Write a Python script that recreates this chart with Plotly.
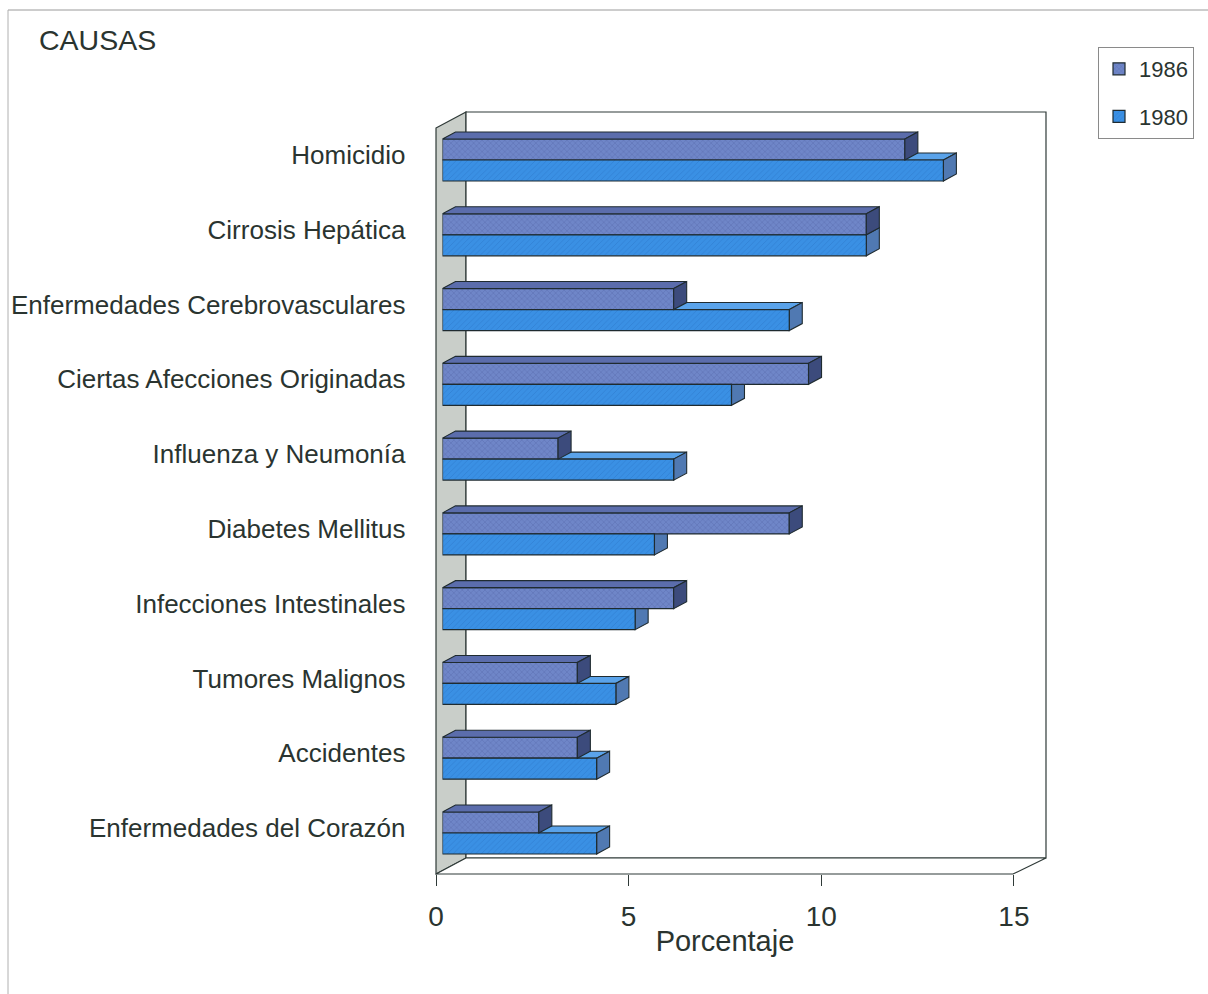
import plotly.graph_objects as go

# ---- data ---------------------------------------------------------------
causas = [
    "Enfermedades del Corazón",
    "Accidentes",
    "Tumores Malignos",
    "Infecciones Intestinales",
    "Diabetes Mellitus",
    "Influenza y Neumonía",
    "Ciertas Afecciones Originadas",
    "Enfermedades Cerebrovasculares",
    "Cirrosis Hepática",
    "Homicidio",
]
pct_1986 = [2.5, 3.5, 3.5, 6.0, 9.0, 3.0, 9.5, 6.0, 11.0, 12.0]
pct_1980 = [4.0, 4.0, 4.5, 5.0, 5.5, 6.0, 7.5, 9.0, 11.0, 13.0]
ticks_pct = [0, 5, 10, 15]

# ---- page geometry (pixels) --------------------------------------------
W, H = 1208, 994
def px(x):
    return x / W
def py(y):
    return 1 - y / H

X0 = 442.5          # bar origin on the front plane
PXU = 38.53         # pixels per percentage point
Y_TOP, Y_BOT = 112, 874
C_TOP, C_BOT = 160, 833  # centres of first / last category row
PYU = (C_BOT - C_TOP) / (len(causas) - 1)

DEPTH_X, DEPTH_Y = 13, 7     # bar depth (px)
dx = DEPTH_X / PXU
dy = DEPTH_Y / PYU
bw = 21 / PYU                # bar thickness in category units

pos = list(range(len(causas)))

TXT = "#2a3430"
EDGE = "#1f2b30"
FONT = "Liberation Sans, Arial, sans-serif"

fig = go.Figure()
fig.add_trace(go.Bar(
    name="1986", y=pos, x=pct_1986, orientation="h",
    width=bw, offset=0, legendgroup="a",
    marker=dict(color="#6f86c8", line=dict(color=EDGE, width=1.2),
                pattern=dict(shape="x", fgcolor="#4b5c9c", size=4, solidity=0.25)),
    hoverinfo="x+name",
))
fig.add_trace(go.Bar(
    name="1980", y=pos, x=pct_1980, orientation="h",
    width=bw, offset=-bw, legendgroup="b",
    marker=dict(color="#3a90e4", line=dict(color=EDGE, width=1.2),
                pattern=dict(shape="/", fgcolor="#2b70c4", size=4, solidity=0.2)),
    hoverinfo="x+name",
))
# the percentage scale drawn along the front edge of the floor
fig.add_trace(go.Scatter(
    x=ticks_pct, y=[None] * len(ticks_pct), xaxis="x2", yaxis="y",
    mode="markers", showlegend=False, hoverinfo="skip",
))

shapes = []

def ppath(pts):
    return "M " + " L ".join(f"{px(x):.5f},{py(y):.5f}" for x, y in pts) + " Z"

# side wall, back wall and floor of the 3D frame
BACK_L, BACK_R, FRONT_L, FRONT_R = 466, 1046, 436, 1013
shapes.append(dict(type="path", xref="paper", yref="paper", layer="below",
                   path=ppath([(FRONT_L, 128), (BACK_L, Y_TOP), (BACK_L, 858), (FRONT_L, Y_BOT)]),
                   fillcolor="#c9cec9", line=dict(color="#2f3a38", width=1.2)))
shapes.append(dict(type="path", xref="paper", yref="paper", layer="below",
                   path=ppath([(BACK_L, Y_TOP), (BACK_R, Y_TOP), (BACK_R, 858), (BACK_L, 858)]),
                   fillcolor="white", line=dict(color="#2f3a38", width=1.2)))
shapes.append(dict(type="path", xref="paper", yref="paper", layer="below",
                   path=ppath([(FRONT_L, Y_BOT), (FRONT_R, Y_BOT), (BACK_R, 858), (BACK_L, 858)]),
                   fillcolor="white", line=dict(color="#2f3a38", width=1.2)))

def dpath(pts):
    return "M " + " L ".join(f"{x:.4f},{y:.4f}" for x, y in pts) + " Z"

def faces(v, lo, hi, top_col, side_col, layer):
    top = [(0, hi), (v, hi), (v + dx, hi + dy), (dx, hi + dy)]
    side = [(v, lo), (v, hi), (v + dx, hi + dy), (v + dx, lo + dy)]
    out = []
    for pts, col in ((top, top_col), (side, side_col)):
        out.append(dict(type="path", xref="x", yref="y", layer=layer,
                        path=dpath(pts), fillcolor=col,
                        line=dict(color=EDGE, width=1.1)))
    return out

# 1980 depth faces sit behind the 1986 bars
for c, v in zip(pos, pct_1980):
    shapes += faces(v, c - bw, c, "#5aa3ea", "#5079b2", "below")
for c, v in zip(pos, pct_1986):
    shapes += faces(v, c, c + bw, "#5b6dac", "#3c4b7c", "above")

# thin page frame (top and left)
shapes.append(dict(type="line", xref="paper", yref="paper", x0=px(8), x1=1, y0=py(10), y1=py(10),
                   line=dict(color="#9a9a9a", width=1)))
shapes.append(dict(type="line", xref="paper", yref="paper", x0=px(8), x1=px(8), y0=py(10), y1=0,
                   line=dict(color="#b0b0b0", width=1)))

x_end = X0 + 15 * PXU

fig.update_layout(
    width=W, height=H,
    margin=dict(l=0, r=0, t=0, b=0),
    paper_bgcolor="white", plot_bgcolor="rgba(0,0,0,0)",
    barmode="overlay",
    font=dict(family=FONT, color=TXT),
    shapes=shapes,
    xaxis=dict(domain=[px(X0), px(x_end)], range=[0, 15], automargin=False,
               showgrid=False, zeroline=False, showline=False,
               showticklabels=False, ticks=""),
    xaxis2=dict(anchor="y", side="bottom", automargin=False,
                domain=[px(FRONT_L), px(FRONT_L + 15 * PXU)],
                range=[0, 15], tickvals=ticks_pct,
                ticks="outside", ticklen=11, tickwidth=1.2, tickcolor="#2f3a38",
                ticklabelstandoff=6,
                tickfont=dict(size=28, color=TXT),
                showgrid=False, zeroline=False, showline=False,
                title=dict(text="Porcentaje", font=dict(size=29, color=TXT), standoff=0)),
    yaxis=dict(domain=[py(Y_BOT), py(Y_TOP)], automargin=False,
               range=[0 - (Y_BOT - C_BOT) / PYU, len(causas) - 1 + (C_TOP - Y_TOP) / PYU],
               tickvals=pos, ticktext=causas,
               ticks="", ticklabelstandoff=36, ticklabelshift=-5,
               tickfont=dict(size=26, color=TXT),
               showgrid=False, zeroline=False, showline=False),
    legend=dict(x=px(1098), y=py(47), xanchor="left", yanchor="top",
                bgcolor="white", bordercolor="#8a8a8a", borderwidth=1,
                font=dict(size=22, color=TXT), traceorder="grouped",
                tracegroupgap=16),
    annotations=[dict(text="CAUSAS", x=px(37), y=py(40), xref="paper", yref="paper",
                      xanchor="left", yanchor="middle", showarrow=False,
                      font=dict(size=28.5, color=TXT))],
    showlegend=True,
)

fig.write_html("out.html")
